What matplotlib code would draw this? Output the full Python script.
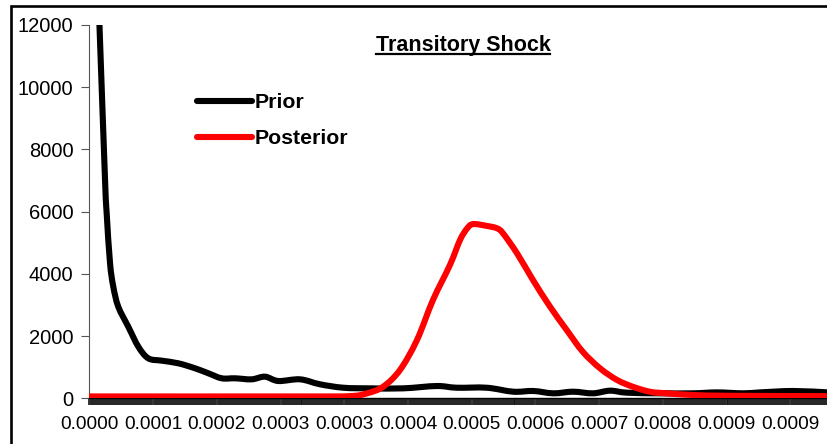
import matplotlib
matplotlib.use("Agg")
import matplotlib.pyplot as plt
from matplotlib.ticker import FixedLocator, MultipleLocator, FixedFormatter
from matplotlib.patches import Rectangle, PathPatch
from matplotlib.path import Path
from matplotlib.lines import Line2D

plt.rcParams['font.family'] = ['Liberation Sans', 'DejaVu Sans']

# ---- data ----
prior_x = [0.0000074, 0.0000128, 0.0000209, 0.0000231, 0.0000276, 0.0000320, 0.0000387,
           0.0000522, 0.0000657, 0.0000791, 0.0000971, 0.0001195, 0.0001419, 0.0001598,
           0.0001779, 0.0001958, 0.0002182, 0.0002361, 0.0002540, 0.0002832, 0.0003101,
           0.0003415, 0.0003774, 0.0004222, 0.0004671, 0.0004940, 0.0005344, 0.0005702,
           0.0005971, 0.0006240, 0.0006505, 0.0006774, 0.0007003, 0.0007232, 0.0007676,
           0.0008120, 0.0008442, 0.0008792, 0.0009021, 0.0009465, 0.0009936]
prior_y = [16000, 12400, 7020, 5950, 4350, 3590, 2945,
           2300, 1660, 1285, 1210, 1125, 965, 805,
           643, 643, 610, 695, 556, 610, 450,
           340, 320, 320, 395, 340, 340, 212,
           235, 160, 212, 160, 245, 180, 160,
           160, 190, 160, 190, 235, 190]

post_x = [0.0000000, 0.0002832, 0.0003505, 0.0003733, 0.0003949, 0.0004177, 0.0004406,
          0.0004621, 0.0004850, 0.0004985, 0.0005079, 0.0005160, 0.0005348, 0.0005482,
          0.0005563, 0.0005752, 0.0005967, 0.0006196, 0.0006420, 0.0006635, 0.0006868,
          0.0007097, 0.0007312, 0.0007541, 0.0007770, 0.0008120, 0.0008617, 0.0009936]
post_y = [60, 60, 70, 160, 370, 910, 1875,
          3160, 4290, 5090, 5455, 5600, 5540, 5465,
          5305, 4660, 3800, 2945, 2195, 1500, 965,
          590, 370, 210, 160, 106, 80, 70]

tick_step = 0.0000857
x_tick_labels = ['0.0000', '0.0001', '0.0002', '0.0003', '0.0003', '0.0004',
                 '0.0005', '0.0006', '0.0007', '0.0008', '0.0009', '0.0009']
y_ticks = [0, 2000, 4000, 6000, 8000, 10000, 12000]
title = 'Transitory Shock'
series_names = ['Prior', 'Posterior']
series_colors = ['black', '#ff0000']


def smooth_path(xs, ys):
    """Excel-style smoothed line: Catmull-Rom segments through the data points as Bezier curves."""
    pts = list(zip(xs, ys))
    n = len(pts)
    verts = [pts[0]]
    codes = [Path.MOVETO]
    for i in range(n - 1):
        p0 = pts[i - 1] if i > 0 else pts[i]
        p1 = pts[i]
        p2 = pts[i + 1]
        p3 = pts[i + 2] if i + 2 < n else pts[i + 1]
        c1 = (p1[0] + (p2[0] - p0[0]) / 6, p1[1] + (p2[1] - p0[1]) / 6)
        c2 = (p2[0] - (p3[0] - p1[0]) / 6, p2[1] - (p3[1] - p1[1]) / 6)
        verts += [c1, c2, p2]
        codes += [Path.CURVE4] * 3
    return Path(verts, codes)


# ---- figure ----
W, H = 828, 444
fig = plt.figure(figsize=(W / 100, H / 100), dpi=100)
fig.patch.set_facecolor('white')

# outer chart frame (cropped on right/bottom)
fig.patches.append(Rectangle((10.5 / W, -0.05), 1.2, (H - 6) / H + 0.05,
                             transform=fig.transFigure, fill=False,
                             edgecolor='black', linewidth=1.9))

ax_left, ax_right = 89.5, 828
ax_top, ax_bot = 25, 398.3
ax = fig.add_axes([ax_left / W, (H - ax_bot) / H, (ax_right - ax_left) / W, (ax_bot - ax_top) / H])
ax.set_facecolor('white')

LW = 4.4
for (xs, ys, c, z) in [(prior_x, prior_y, series_colors[0], 3), (post_x, post_y, series_colors[1], 4)]:
    ax.add_patch(PathPatch(smooth_path(xs, ys), fill=False, edgecolor=c, lw=LW,
                           capstyle='round', joinstyle='round', zorder=z))

ax.set_xlim(0, (ax_right - ax_left) * tick_step / 63.7)
ax.set_ylim(0, 12000)

ax.spines['top'].set_visible(False)
ax.spines['right'].set_visible(False)
ax.spines['left'].set_color('#555555')
ax.spines['left'].set_linewidth(0.8)
ax.spines['bottom'].set_color('black')
ax.spines['bottom'].set_linewidth(1.0)

ax.set_yticks(y_ticks)
ax.set_yticklabels([str(v) for v in y_ticks])
ax.tick_params(axis='y', direction='out', length=5.5, width=0.8, color='#555555',
               pad=6, labelsize=14.5, labelcolor='black')

ax.xaxis.set_major_locator(FixedLocator([i * tick_step for i in range(len(x_tick_labels))]))
ax.xaxis.set_major_formatter(FixedFormatter(x_tick_labels))
ax.xaxis.set_minor_locator(MultipleLocator(tick_step / 32))
ax.tick_params(axis='x', which='major', direction='out', length=5, width=1.2,
               color='#111111', pad=8, labelsize=13.7, labelcolor='black')
ax.tick_params(axis='x', which='minor', direction='out', length=5, width=1.3,
               color='#111111')

handles = [Line2D([], [], color=c, lw=LW, solid_capstyle='round') for c in series_colors]
leg = ax.legend(handles, series_names, loc='upper left', bbox_to_anchor=(197 / W, 1 - 93.5 / H),
                bbox_transform=fig.transFigure, frameon=False,
                prop={'weight': 'bold', 'size': 15.3}, handlelength=2.6,
                handletextpad=0.1, labelspacing=0.8, borderpad=0, borderaxespad=0)

t = fig.text(463 / W, 1 - 45.5 / H, title, ha='center', va='center',
             fontsize=15.5, fontweight='bold')
fig.canvas.draw()
bb = t.get_window_extent()
fig.lines.append(Line2D([bb.x0 / W, bb.x1 / W], [(H - 54.5) / H, (H - 54.5) / H],
                        transform=fig.transFigure, color='black', lw=1.6))

fig.savefig('out.png', dpi=100, facecolor='white')
